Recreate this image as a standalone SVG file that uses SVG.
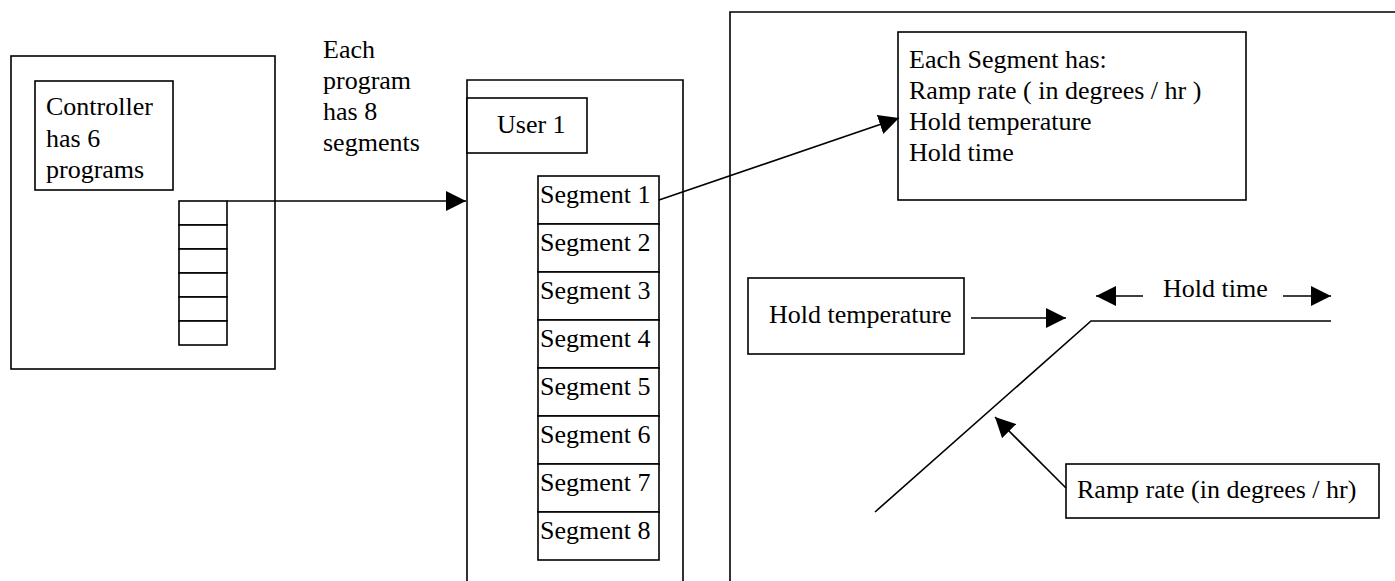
<svg xmlns="http://www.w3.org/2000/svg" width="1395" height="581" viewBox="0 0 1395 581">
<style>
.b{fill:#fff;stroke:#000;stroke-width:1.6}
.n{fill:none;stroke:#000;stroke-width:1.6}
.t{font-family:"Liberation Serif","Times New Roman",serif;font-size:26px;fill:#000}
</style>
<defs>
<marker id="ah" markerWidth="20" markerHeight="20" refX="20" refY="10" orient="auto" markerUnits="userSpaceOnUse">
<path d="M0,0 L20,10 L0,20 Z" fill="#000"/>
</marker>
</defs>
<rect width="1395" height="581" fill="#fff"/>
<g id="controller">
<rect class="b" x="11" y="56" width="264" height="313"/>
<rect class="b" x="35" y="81" width="138" height="109"/>
<text class="t" x="46" y="115">Controller</text>
<text class="t" x="46" y="147">has 6</text>
<text class="t" x="46" y="178">programs</text>
<g id="program-stack">
<rect class="b" x="179" y="201" width="48" height="24"/>
<rect class="b" x="179" y="225" width="48" height="24"/>
<rect class="b" x="179" y="249" width="48" height="24"/>
<rect class="b" x="179" y="273" width="48" height="24"/>
<rect class="b" x="179" y="297" width="48" height="24"/>
<rect class="b" x="179" y="321" width="48" height="24"/>
</g>
</g>
<g id="label-each-program">
<text class="t" x="323" y="58">Each</text>
<text class="t" x="323" y="89">program</text>
<text class="t" x="323" y="120">has 8</text>
<text class="t" x="323" y="151">segments</text>
</g>
<g id="user-panel">
<path class="n" d="M467,590 V80 H683 V590"/>
<rect class="b" x="467" y="98" width="120" height="55"/>
<text class="t" x="497" y="133">User 1</text>
</g>
<g id="segments">
<rect class="b" x="538" y="176" width="121" height="48"/><text class="t" x="540" y="203">Segment 1</text>
<rect class="b" x="538" y="224" width="121" height="48"/><text class="t" x="540" y="251">Segment 2</text>
<rect class="b" x="538" y="272" width="121" height="48"/><text class="t" x="540" y="299">Segment 3</text>
<rect class="b" x="538" y="320" width="121" height="48"/><text class="t" x="540" y="347">Segment 4</text>
<rect class="b" x="538" y="368" width="121" height="48"/><text class="t" x="540" y="395">Segment 5</text>
<rect class="b" x="538" y="416" width="121" height="48"/><text class="t" x="540" y="443">Segment 6</text>
<rect class="b" x="538" y="464" width="121" height="48"/><text class="t" x="540" y="491">Segment 7</text>
<rect class="b" x="538" y="512" width="121" height="48"/><text class="t" x="540" y="539">Segment 8</text>
</g>
<g id="detail-panel">
<path class="n" d="M730,590 V12 H1400"/>
</g>
<g id="segment-info">
<rect class="b" x="898" y="32" width="348" height="168"/>
<text class="t" x="909" y="68">Each Segment has:</text>
<text class="t" x="909" y="99">Ramp rate ( in degrees / hr )</text>
<text class="t" x="909" y="130">Hold temperature</text>
<text class="t" x="909" y="161">Hold time</text>
</g>
<g id="hold-temperature">
<rect class="b" x="748" y="278" width="216" height="76"/>
<text class="t" x="769" y="323">Hold temperature</text>
</g>
<g id="ramp-rate">
<rect class="b" x="1066" y="464" width="313" height="54"/>
<text class="t" x="1077" y="498">Ramp rate (in degrees / hr)</text>
</g>
<g id="hold-time">
<text class="t" x="1163" y="297">Hold time</text>
</g>
<g id="profile">
<path class="n" d="M875,512 L1091,321 H1331"/>
</g>
<g id="connectors">
<path class="n" d="M227,201 H466" marker-end="url(#ah)"/>
<path class="n" d="M659,200 L899,118" marker-end="url(#ah)"/>
<path class="n" d="M971,318 H1066" marker-end="url(#ah)"/>
<path class="n" d="M1143,296 H1096" marker-end="url(#ah)"/>
<path class="n" d="M1283,296 H1331" marker-end="url(#ah)"/>
<path class="n" d="M1066,488 L995,417" marker-end="url(#ah)"/>
</g>
</svg>
